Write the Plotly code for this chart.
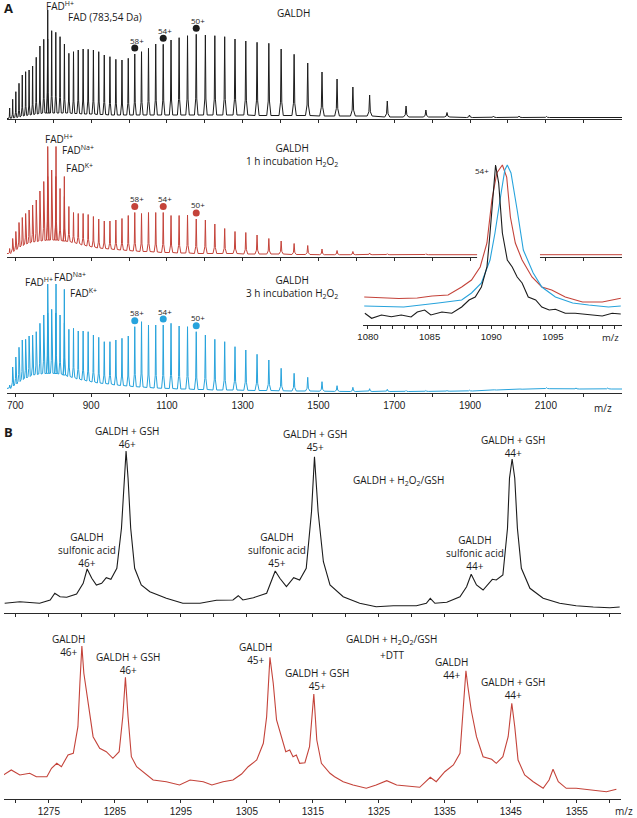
import plotly.graph_objects as go

# ---------------- DATA ----------------
# Panel A: GALDH charge-state ladder (z = 86 ... 26), peak m/z
charge_states = [86, 85, 84, 83, 82, 81, 80, 79, 78, 77, 76, 75, 74, 73, 72, 71, 70, 69, 68, 67,
                 66, 65, 64, 63, 62, 61, 60, 59, 58, 57, 56, 55, 54, 53, 52, 51, 50, 49, 48, 47,
                 46, 45, 44, 43, 42, 41, 40, 39, 38, 37, 36, 35, 34, 33, 32, 31, 30, 29, 28, 27, 26]
peak_mz = [685.0, 693.0, 701.3, 709.7, 718.3, 727.2, 736.3, 745.6, 755.1, 764.9, 775.0, 785.3,
           795.9, 806.8, 818.0, 829.5, 841.3, 853.5, 866.0, 878.9, 892.2, 906.0, 920.1, 934.7,
           949.7, 965.3, 981.4, 998.0, 1015.2, 1033.0, 1051.4, 1070.5, 1090.3, 1110.9, 1132.2,
           1154.4, 1177.4, 1201.5, 1226.5, 1252.5, 1279.7, 1308.2, 1337.9, 1369.0, 1401.5,
           1435.7, 1471.6, 1509.3, 1549.0, 1590.8, 1635.0, 1681.6, 1731.1, 1783.5, 1839.2,
           1898.5, 1961.7, 2029.3, 2101.8, 2179.6, 2263.4]

# apex intensities (arbitrary units) and baseline under each peak
galdh_apex = [11, 19.7, 27.3, 35.7, 44, 47.3, 49, 53, 61.7, 73, 79.7, 80, 88.3, 86.7, 82.3, 75,
              65.7, 67.3, 69, 70, 69.7, 69, 67.3, 64, 62.3, 59.7, 59, 60.7, 65, 67.3, 70.7, 75,
              74.7, 79, 81.3, 83.3, 84.7, 84, 83.3, 82.3, 80, 78, 76.7, 75.7, 70, 64.7, 56, 47,
              40, 32, 24, 18, 13, 9, 6.5, 4, 3, 3, 2.5, 2.2, 2.0]
galdh_base = [0.5, 1, 1.5, 2, 3, 3.5, 4, 4.5, 5, 5.5, 6, 6, 6, 6, 6, 6, 6, 5.5, 5.5, 5, 5, 5,
              4.5, 4.5, 4, 4, 4, 4, 4, 4, 4, 4, 4, 4, 4, 4, 4, 4, 4, 4, 4, 4, 3.5, 3.5, 3.5,
              3.5, 3.5, 3, 3, 3, 3, 2, 2, 2, 2, 1.5, 1.5, 1.5, 1.5, 1.5, 1.5]

h2o2_1h_apex = [8, 18, 25, 34, 39, 43, 46.5, 51.5, 56.5, 65.5, 75, 80, 86.5, 80, 68, 60, 50, 44,
                43, 43, 42, 40, 37.5, 35.5, 35.5, 36.5, 38, 41, 44, 43, 44, 44, 44, 41, 41, 41.5,
                37.5, 36.5, 32.5, 28, 25, 24, 21.5, 18, 15.5, 13, 11, 7.5, 6, 5, 3.5, 2.8, 2.5,
                2.8, 2.5, 2.5, 2.2, 2.2, 2.2, 2.2, 2.2]
h2o2_1h_base = [3, 5, 7, 9.5, 11, 12.5, 13.5, 14.5, 15, 15.5, 16, 16.5, 16.5, 16.5, 16, 15.5, 15,
                14, 13, 11.5, 10.5, 9.5, 8.5, 8, 7.5, 7, 6.5, 6, 5.5, 5, 5, 4.5, 4, 4, 3.5, 3.5,
                3, 3, 3, 3, 3, 2.5, 2.5, 2.5, 2.5, 2, 2, 1.8, 1.8, 1.8, 1.8, 1.8, 1.8, 1.8, 1.8,
                1.8, 1.8, 1.8, 1.8, 1.8, 1.8]

h2o2_3h_apex = [8, 26, 36, 45.7, 53, 53.7, 57, 58, 61.3, 69.7, 78, 80, 83.7, 80, 78, 70, 63.7,
                64.7, 62, 62, 61.3, 58, 55.7, 51.3, 51.3, 53, 54.7, 57, 66.3, 71.3, 68, 68, 68,
                69.7, 67, 66.3, 61.3, 58, 53.7, 51.3, 46.3, 43, 38.7, 33, 24.7, 19.7, 15.7, 11.3,
                7.3, 5.7, 4.3, 3.7, 2.5, 2.5, 2.6, 2.8, 3.8, 4.6, 5.3, 5, 5]
h2o2_3h_base = [4.5, 7, 9, 11.5, 13.5, 15, 16.5, 18, 18.5, 19, 19.5, 19.7, 19.7, 19.5, 19, 18,
                16.5, 15.5, 14, 13, 12, 11, 10, 9.5, 9, 8, 7.5, 7, 6.3, 6, 5.5, 5, 4.7, 4.5, 4,
                4, 3.5, 3.5, 3, 3, 3, 2.7, 2.5, 2.5, 2.2, 2, 2, 1.8, 1.6, 1.5, 1.5, 1.5, 1.5, 1.6,
                1.8, 2, 3, 3.8, 4.3, 4, 4]

# FAD cofactor peaks (H+, Na+, K+)
fad_ions = ["H+", "Na+", "K+"]
fad_mz = [785.5, 807.4, 829.3]
galdh_fad = [109, None, None]
h2o2_1h_fad = [110, 110, 80]
h2o2_3h_fad = [109, 109, 103.7]

labeled_charges = [58, 54, 50]
a_tick_labels = [700, 900, 1100, 1300, 1500, 1700, 1900, 2100]
a_minor_ticks = [700, 800, 900, 1000, 1100, 1200, 1300, 1400, 1500, 1600, 1700, 1800, 1900,
                 2000, 2100, 2200]

# Inset: 54+ peak, three conditions
inset_black_mz = [1079.75, 1080.3, 1081.1, 1081.9, 1082.7, 1083.5, 1084.0, 1084.6, 1085.1,
                  1086.0, 1086.8, 1087.6, 1088.2, 1088.7, 1089.2, 1089.65, 1089.9, 1090.2,
                  1090.35, 1090.6, 1090.9, 1091.3, 1091.7, 1092.1, 1092.5, 1093.0, 1093.6,
                  1094.1, 1094.7, 1095.2, 1096.0, 1096.8, 1097.9, 1099.0, 1099.8, 1100.5]
inset_black_int = [11.7, 6.7, 10, 8.3, 10, 8, 13, 15, 10, 13, 11.7, 18, 25, 28, 38, 58, 92, 142,
                   160, 142, 92, 65, 58, 48, 42, 28, 25, 18, 15, 15.7, 11.7, 11.7, 10, 9, 11.7, 11]
inset_red_mz = [1079.7, 1081.0, 1082.5, 1084.0, 1085.2, 1086.5, 1087.6, 1088.4, 1089.1, 1089.65,
                1090.05, 1090.45, 1090.9, 1091.25, 1091.55, 1091.95, 1092.5, 1093.3, 1094.1,
                1094.9, 1096.0, 1097.4, 1099.0, 1100.5]
inset_red_int = [28, 27, 26.5, 27, 29, 30, 38, 45, 58, 82, 125, 152, 160, 148, 108, 82, 65, 48,
                 38, 35, 28, 23, 23, 26.7]
inset_blue_mz = [1079.7, 1082.9, 1085.7, 1087.6, 1088.4, 1089.2, 1089.9, 1090.3, 1090.8, 1091.1,
                 1091.3, 1091.6, 1092.1, 1092.6, 1093.4, 1094.1, 1095.2, 1096.6, 1097.9, 1099.5,
                 1100.5]
inset_blue_int = [19, 18, 22, 25, 32, 42, 65, 92, 132, 155, 160, 152, 115, 75, 52, 38, 28, 22,
                  20, 18, 19]

# Panel B: GALDH + H2O2/GSH (black) and + DTT (red)
b_top_mz = [1268.3, 1270.6, 1273.6, 1275.2, 1275.9, 1276.7, 1277.7, 1279.2, 1280.2, 1280.8,
            1281.5, 1282.2, 1283.0, 1283.7, 1284.4, 1285.3, 1286.0, 1286.4, 1286.7, 1287.0,
            1287.4, 1288.0, 1289.0, 1290.3, 1292.8, 1295.3, 1297.9, 1300.4, 1302.9, 1303.7,
            1304.4, 1306.0, 1308.0, 1309.3, 1310.0, 1311.0, 1312.1, 1313.0, 1314.0, 1314.8,
            1315.25, 1315.8, 1316.6, 1317.6, 1319.6, 1322.1, 1324.6, 1327.2, 1330.7, 1332.2,
            1332.8, 1333.5, 1335.3, 1337.3, 1338.3, 1339.0, 1339.8, 1340.8, 1342.2, 1342.8,
            1343.8, 1344.5, 1344.8, 1345.2, 1345.6, 1346.0, 1346.6, 1347.9, 1349.9, 1352.4,
            1354.9, 1357.5, 1360.0, 1361.5]
b_top_int = [9.7, 11.3, 9.7, 13, 19.7, 16.3, 15.7, 19, 29.7, 44, 34.7, 28, 29.7, 35.3, 33.7,
             44.7, 84.7, 134.7, 162, 134.7, 84.7, 44.7, 28, 21.3, 14.7, 9.7, 9.7, 12.7, 13, 17.3,
             13, 15.3, 19.7, 42, 34.7, 26.3, 35.3, 33, 44.7, 101.3, 156.3, 101.3, 51.3, 28, 16.3,
             9.7, 6.3, 7.3, 7.3, 9.7, 14.7, 9.7, 10.7, 16.3, 26.3, 38.7, 28, 23, 33.7, 33, 38,
             84.7, 134.7, 154, 134.7, 84.7, 44.7, 24.7, 14.7, 9.7, 7.3, 6, 5.3, 6]
b_bot_mz = [1268.1, 1269.3, 1270.6, 1272.1, 1273.1, 1274.7, 1275.4, 1276.2, 1276.9, 1277.9,
            1278.7, 1279.4, 1279.7, 1280.0, 1280.3, 1280.8, 1281.2, 1281.7, 1282.7, 1283.7,
            1284.7, 1285.65, 1286.2, 1286.6, 1287.0, 1287.5, 1288.3, 1289.3, 1290.8, 1292.8,
            1294.8, 1296.4, 1298.4, 1299.7, 1301.4, 1302.9, 1304.2, 1305.2, 1306.5, 1307.5,
            1308.0, 1308.5, 1309.0, 1309.5, 1310.3, 1310.9, 1311.5, 1312.0, 1312.5, 1313.0,
            1313.8, 1314.5, 1315.15, 1315.6, 1316.3, 1317.6, 1318.3, 1319.6, 1321.1, 1323.1,
            1324.6, 1326.2, 1327.7, 1329.7, 1331.2, 1332.8, 1333.7, 1335.0, 1336.3, 1337.3,
            1337.9, 1338.2, 1338.5, 1339.0, 1339.8, 1340.8, 1342.1, 1342.8, 1343.8, 1344.6,
            1345.15, 1345.6, 1346.1, 1347.1, 1348.4, 1349.9, 1350.8, 1351.4, 1352.2, 1353.4,
            1354.9, 1357.5, 1359.5, 1361.0]
b_bot_int = [24, 29, 24, 25.7, 22.3, 22.3, 30.7, 35.7, 32.3, 44, 45.7, 72.3, 115.7, 153, 125.7,
             102.3, 85.7, 62.3, 50.7, 47.3, 40.7, 47.3, 82.3, 121.7, 82.3, 42.3, 32.3, 27.3, 19,
             17.3, 14, 19, 17.3, 14, 17.3, 19, 25, 32.3, 39, 55.7, 82.3, 141.7, 115.7, 79, 62.3,
             47.3, 49, 42.3, 44, 35.7, 36.3, 52.3, 105, 59, 35.7, 25.7, 22.3, 17.3, 14, 10.7, 14,
             18.3, 14, 12.3, 11.7, 21.7, 17.3, 27.3, 34, 45.7, 99, 128.3, 112.3, 89, 62.3, 42.3,
             39.7, 35.7, 42.3, 62.3, 95.7, 72.3, 39, 24, 17.3, 10.7, 19, 29.7, 17.3, 10.7, 10.7,
             9, 7.3, 9.7]

# ---------------- STYLE ----------------
W, H = 637, 818
BLACK = "#1c1c1c"
RED = "#c4433a"
BLUE = "#27a3dc"
AXIS = "#2a2a2a"
TXT = "#1a1a1a"
FONT = "Open Sans"
TICKFONT = "Liberation Sans"
PEAK_WIDTH = 0.004  # relative half width of a charge-state peak
A_RANGE = [678, 2301]
INSET_RANGE = [1079.6, 1100.6]
B_RANGE = [1268.2, 1361.7]


def px_x(x):
    return x / W


def px_y(y):
    return 1 - y / H


def spectrum(mz, apex, base, fad_apex):
    peaks = list(zip(mz, apex, base))
    for m, a in zip(fad_mz, fad_apex):
        if a is not None:
            # baseline below the FAD peak = baseline of the nearest ladder peak
            j = min(range(len(mz)), key=lambda k: abs(mz[k] - m))
            peaks.append((m, a, base[j]))
    peaks.sort(key=lambda p: p[0])
    xs = [A_RANGE[0]]
    ys = [peaks[0][2]]
    for m, a, b in peaks:
        w = PEAK_WIDTH * m
        mid = b + 0.2 * (a - b)
        xs += [m - w, m - 0.3 * w, m, m + 0.3 * w, m + w]
        ys += [b, mid, a, mid, b]
    xs.append(A_RANGE[1])
    ys.append(peaks[-1][2])
    return xs, ys


fig = go.Figure()

a_sets = [
    ("", galdh_apex, galdh_base, galdh_fad, BLACK),
    ("2", h2o2_1h_apex, h2o2_1h_base, h2o2_1h_fad, RED),
    ("3", h2o2_3h_apex, h2o2_3h_base, h2o2_3h_fad, BLUE),
]
annotations = []
for sfx, apex, base, fad, col in a_sets:
    xs, ys = spectrum(peak_mz, apex, base, fad)
    fig.add_trace(go.Scatter(x=xs, y=ys, mode="lines", line=dict(color=col, width=1),
                             xaxis="x" + sfx, yaxis="y" + sfx, hoverinfo="skip"))
    dx, dy = [], []
    for z in labeled_charges:
        i = charge_states.index(z)
        dx.append(peak_mz[i])
        dy.append(apex[i] + 6)
        annotations.append(dict(text=f"{z}+", x=peak_mz[i], y=apex[i] + 6,
                                xref="x" + sfx, yref="y" + sfx, showarrow=False,
                                xshift=2, yshift=8, font=dict(family=FONT, size=8, color=TXT)))
    fig.add_trace(go.Scatter(x=dx, y=dy, mode="markers", marker=dict(color=col, size=7),
                             xaxis="x" + sfx, yaxis="y" + sfx, hoverinfo="skip"))

# Inset: white mask hiding the red panel behind the 54+ peaks
fig.add_trace(go.Scatter(x=[1088.85, 1093.95, 1093.95, 1088.85, 1088.85],
                         y=[62, 62, 75, 75, 62], mode="lines", fill="toself",
                         fillcolor="white", line=dict(width=0),
                         xaxis="x4", yaxis="y4", hoverinfo="skip"))
for mz, it, col in [(inset_red_mz, inset_red_int, RED), (inset_blue_mz, inset_blue_int, BLUE),
                    (inset_black_mz, inset_black_int, BLACK)]:
    fig.add_trace(go.Scatter(x=mz, y=it, mode="lines", line=dict(color=col, width=1.1),
                             xaxis="x4", yaxis="y4", hoverinfo="skip"))

fig.add_trace(go.Scatter(x=b_top_mz, y=b_top_int, mode="lines", line=dict(color=BLACK, width=1.1),
                         xaxis="x5", yaxis="y5", hoverinfo="skip"))
fig.add_trace(go.Scatter(x=b_bot_mz, y=b_bot_int, mode="lines", line=dict(color=RED, width=1.1),
                         xaxis="x6", yaxis="y6", hoverinfo="skip"))


def xax(domain, rng, anchor, labels, tickvals, minorvals, size=10):
    return dict(domain=domain, range=rng, anchor=anchor, showline=True, linecolor=AXIS,
                linewidth=1, ticks="outside", ticklen=3, tickwidth=1, tickcolor=AXIS,
                showgrid=False, zeroline=False, showticklabels=labels,
                tickmode="array", tickvals=tickvals,
                minor=dict(tickmode="array", tickvals=minorvals, ticks="outside", ticklen=3,
                           tickwidth=1, tickcolor=AXIS, showgrid=False),
                tickfont=dict(family=TICKFONT, size=size, color=TXT), fixedrange=True,
                automargin=False)


def yax(domain, rng, anchor):
    return dict(domain=domain, range=rng, anchor=anchor, visible=False, fixedrange=True)


a_dom = [px_x(7), px_x(622)]
b_dom = [px_x(4), px_x(621)]
inset_major = [1080, 1085, 1090, 1095]
inset_minor = [1080, 1081, 1082, 1083, 1084, 1085, 1086, 1087, 1088, 1089, 1090, 1091, 1092,
               1093, 1094, 1095, 1096, 1097, 1098, 1099, 1100]
b_major = [1275, 1285, 1295, 1305, 1315, 1325, 1335, 1345, 1355]
b_minor = [1270, 1275, 1280, 1285, 1290, 1295, 1300, 1305, 1310, 1315, 1320, 1325, 1330, 1335,
           1340, 1345, 1350, 1355, 1360]

layout = dict(
    width=W, height=H, margin=dict(l=0, r=0, t=0, b=0, pad=0), showlegend=False,
    autosize=False,
    font=dict(family=FONT, size=10, color=TXT),
    paper_bgcolor="white", plot_bgcolor="rgba(0,0,0,0)", hovermode=False,
    xaxis=xax(a_dom, A_RANGE, "y", False, a_tick_labels, a_minor_ticks),
    yaxis=yax([px_y(119), px_y(5)], [0, 114], "x"),
    xaxis2=xax(a_dom, A_RANGE, "y2", False, a_tick_labels, a_minor_ticks),
    yaxis2=yax([px_y(256.5), px_y(139.5)], [0, 117], "x2"),
    xaxis3=xax(a_dom, A_RANGE, "y3", True, a_tick_labels, a_minor_ticks),
    yaxis3=yax([px_y(393), px_y(276)], [0, 117], "x3"),
    xaxis4=xax([px_x(363), px_x(622)], INSET_RANGE, "y4", True, inset_major, inset_minor, 9.5),
    yaxis4=yax([px_y(325), px_y(160)], [0, 165], "x4"),
    xaxis5=xax(b_dom, B_RANGE, "y5", False, b_major, b_minor),
    yaxis5=yax([px_y(613), px_y(440)], [0, 173], "x5"),
    xaxis6=xax(b_dom, B_RANGE, "y6", True, b_major, b_minor),
    yaxis6=yax([px_y(799), px_y(630)], [0, 169], "x6"),
)

texts = [
    ("<b>A</b>", 2, 8, 13, "left"),
    ("FAD<sup>H+</sup>", 44, 6, 10, "left"),
    ("FAD (783,54 Da)", 105, 16.7, 10, "center"),
    ("GALDH", 293, 13.3, 10, "center"),
    ("FAD<sup>H+</sup>", 43.3, 139, 10, "left"),
    ("FAD<sup>Na+</sup>", 60, 150, 10, "left"),
    ("FAD<sup>K+</sup>", 64, 168.3, 10, "left"),
    ("GALDH<br>1 h incubation H<sub>2</sub>O<sub>2</sub>", 292, 154.5, 10, "center"),
    ("FAD<sup>H+</sup>", 23.3, 281.7, 10, "left"),
    ("FAD<sup>Na+</sup>", 51.7, 276.7, 10, "left"),
    ("FAD<sup>K+</sup>", 67.7, 292.7, 10, "left"),
    ("GALDH<br>3 h incubation H<sub>2</sub>O<sub>2</sub>", 292, 287, 10, "center"),
    ("54+", 481.7, 170.7, 8, "center"),
    ("m/z", 603, 408, 10, "center"),
    ("m/z", 610, 337, 9.5, "center"),
    ("<b>B</b>", 2, 431.7, 13, "left"),
    ("GALDH + GSH<br>46+", 126.7, 437.5, 10, "center"),
    ("GALDH<br>sulfonic acid<br>46+", 86.7, 550, 10, "center"),
    ("GALDH + GSH<br>45+", 315, 441, 10, "center"),
    ("GALDH<br>sulfonic acid<br>45+", 276.7, 550, 10, "center"),
    ("GALDH + H<sub>2</sub>O<sub>2</sub>/GSH", 398, 480, 10, "center"),
    ("GALDH + GSH<br>44+", 513.3, 446, 10, "center"),
    ("GALDH<br>sulfonic acid<br>44+", 475, 553, 10, "center"),
    ("GALDH<br>46+", 68.3, 645, 10, "center"),
    ("GALDH + GSH<br>46+", 128.3, 663, 10, "center"),
    ("GALDH<br>45+", 255, 653.3, 10, "center"),
    ("GALDH + GSH<br>45+", 316.7, 679, 10, "center"),
    ("GALDH + H<sub>2</sub>O<sub>2</sub>/GSH", 391.7, 639.5, 10, "center"),
    ("+DTT", 391.7, 655, 10, "center"),
    ("GALDH<br>44+", 451.7, 668.7, 10, "center"),
    ("GALDH + GSH<br>44+", 512.7, 688, 10, "center"),
    ("m/z", 635, 810.5, 10, "right"),
]
for t, x, y, s, anc in texts:
    annotations.append(dict(text=t, x=px_x(x), y=px_y(y), xref="paper", yref="paper",
                            xanchor=anc, yanchor="middle", showarrow=False,
                            font=dict(family=FONT, size=s, color=TXT)))
layout["annotations"] = annotations
fig.update_layout(**layout)
fig.write_html("out.html", config={"displayModeBar": False, "staticPlot": True},
               post_script="document.body.style.margin='0';document.body.style.overflow='hidden';")
